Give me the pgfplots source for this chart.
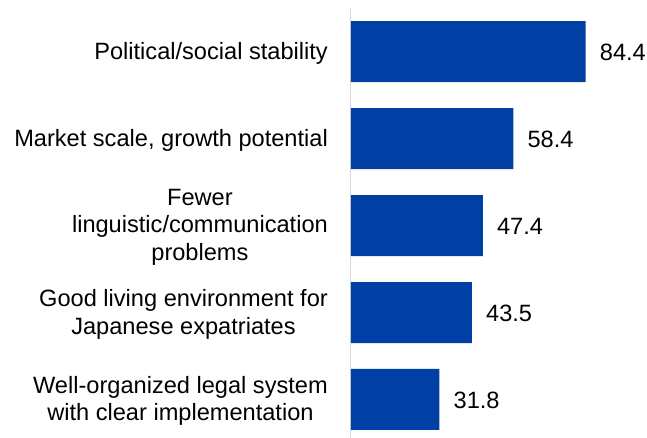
\documentclass[border=0pt]{standalone}
\usepackage{fontspec}
\setmainfont{Liberation Sans}
\usepackage{pgfplots}
\pgfplotsset{compat=1.18}
\definecolor{barblue}{RGB}{0,64,164}
\definecolor{axisgray}{RGB}{217,217,217}
\newcommand{\lblfont}{\fontsize{23.6bp}{27.7bp}\selectfont}
\begin{document}
\begin{tikzpicture}
\useasboundingbox (0,0) rectangle (647bp,438bp);
\begin{axis}[
  at={(351bp,0bp)}, anchor=south west,
  scale only axis,
  width=278.1bp, height=430bp,
  xmin=0, xmax=100,
  ymin=0.497, ymax=5.443,
  y dir=reverse,
  axis x line=none,
  axis y line*=left,
  y axis line style={draw=axisgray, line width=1bp},
  ytick={1,2,3,4,5},
  major tick length=0pt,
  yticklabels={
    Political/social stability,
    {Market scale, growth potential},
    Fewer\\linguistic/communication\\problems,
    Good living environment for\\Japanese expatriates,
    Well-organized legal system\\with clear implementation},
  yticklabel style={align=center, font=\lblfont, inner sep=0pt, xshift=-23bp, yshift=-1.5bp},
  xbar, bar width=61bp, bar shift=0pt,
  nodes near coords={\pgfmathprintnumber[assume math mode=true,fixed,fixed zerofill,precision=1]{\pgfplotspointmeta}},
  nodes near coords align=horizontal,
  every node near coord/.append style={anchor=west, inner sep=0pt, xshift=14bp, yshift=-1bp, font=\lblfont, text=black},
  point meta=explicit,
]
\addplot[fill=barblue, draw=none] coordinates {
  (84.4,1) [84.4]
  (58.4,2) [58.4]
  (47.4,3) [47.4]
  (43.5,4) [43.5]
  (31.8,5) [31.8]
};
\end{axis}
\end{tikzpicture}
\end{document}
